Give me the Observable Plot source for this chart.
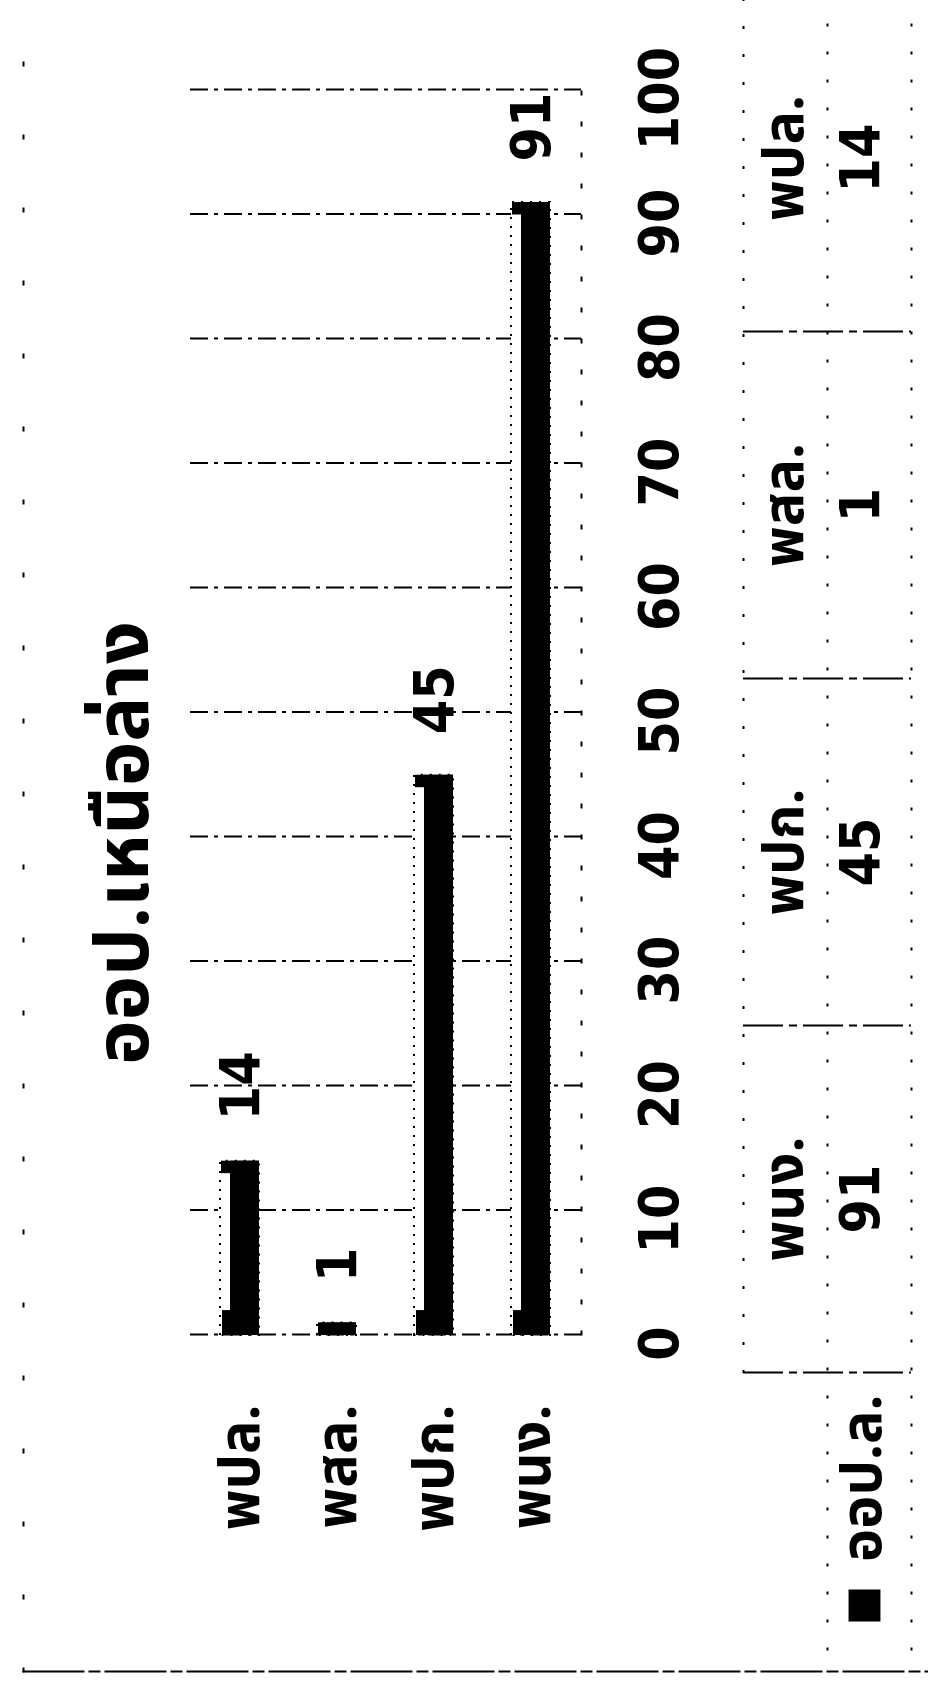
<!DOCTYPE html>
<html>
<head>
<meta charset="utf-8">
<script src="https://cdn.jsdelivr.net/npm/d3@7"></script>
<script src="https://cdn.jsdelivr.net/npm/@observablehq/plot@0.6"></script>
<style>
  html, body { margin: 0; padding: 0; background: #fff; }
  body { width: 928px; height: 1684px; overflow: hidden; position: relative; }
  #rot { position: absolute; left: 0; top: 0; width: 1684px; height: 928px;
         transform-origin: 0 0; transform: translate(0, 1684px) rotate(-90deg); }
  #rot > * { position: absolute; left: 0; top: 0; }
  #title { width: 1682px; text-align: center; top: 88px; font-size: 75px; font-weight: bold;
           line-height: 1; font-family: "Noto Sans Thai", "Noto Sans Thai Looped", Loma, Garuda, "Tlwg Typo", Kinnari, sans-serif; }
</style>
</head>
<body>
<div id="rot">
  <div id="title"></div>
</div>
<script>
// ---- data ----
const chartTitle = "ออป.เหนือล่าง";
const seriesName = "ออป.ล.";
const categories = ["พปล.", "พสล.", "พปก.", "พนง."];
const values = [14, 1, 45, 91];
const xTicks = [0, 10, 20, 30, 40, 50, 60, 70, 80, 90, 100];
const tableOrder = ["พนง.", "พปก.", "พสล.", "พปล."];

const thaiFont = '"Noto Sans Thai", "Noto Sans Thai Looped", Loma, Garuda, "Tlwg Typo", Kinnari, sans-serif';
const numFont = '"DejaVu Sans Condensed", "Liberation Sans", Arial, sans-serif';

const data = categories.map((c, i) => ({cat: c, value: values[i]}));
const tableCols = tableOrder.map((c, i) => ({cat: c, value: values[categories.indexOf(c)], i}));

document.getElementById("title").textContent = chartTitle;

// ---- chart ----
const chart = Plot.plot({
  width: 1684, height: 928,
  marginLeft: 349, marginRight: 90, marginTop: 190, marginBottom: 347,
  x: {domain: [0, 100], axis: null},
  y: {domain: categories, padding: 0, axis: null},
  style: {background: "transparent", color: "#000", overflow: "visible"},
  marks: [
    Plot.ruleX(xTicks, {stroke: "#000", strokeWidth: 2, strokeDasharray: "18,6,4,6"}),
    Plot.frame({anchor: "bottom", stroke: "#000", strokeWidth: 2, strokeDasharray: "3,28"}),
    Plot.barX(data, {x: "value", y: "cat", fill: "#fff", stroke: "#000", strokeWidth: 2,
                     strokeDasharray: "2,7", insetTop: 28, insetBottom: 30}),
    Plot.barX(data, {x: "value", y: "cat", fill: "#000", insetTop: 38, insetBottom: 30}),
    Plot.barX(data, {x1: 0, x2: d => Math.min(d.value, 2), y: "cat", fill: "#000", insetTop: 30, insetBottom: 30}),
    Plot.barX(data, {x1: d => Math.max(0, d.value - 1), x2: "value", y: "cat", fill: "#000", insetTop: 29, insetBottom: 30}),
    Plot.text(data, {x: "value", y: "cat", text: d => String(d.value), textAnchor: "start",
                     dx: 40, fontSize: 55, fontWeight: "bold", fontFamily: numFont}),
    Plot.axisX({ticks: xTicks, tickSize: 0, tickPadding: 57, fontSize: 55, fontWeight: "bold", dx: -9,
                fontFamily: numFont, tickFormat: d => String(d), label: null}),
    Plot.axisY({tickSize: 0, tickPadding: 70, fontSize: 56, fontWeight: "bold",
                fontFamily: thaiFont, label: null})
  ]
});

// ---- data table + chart frame ----
const table = Plot.plot({
  width: 1684, height: 928,
  marginLeft: 12, marginTop: 23, marginRight: 0, marginBottom: 0,
  x: {type: "linear", domain: [0, 4], range: [311, 1699], axis: null},
  y: {type: "linear", domain: [0, 2], range: [743, 911], axis: null},
  style: {background: "transparent", color: "#000", overflow: "visible"},
  marks: [
    Plot.frame({anchor: "left", stroke: "#000", strokeWidth: 2, strokeDasharray: "60,6,10,6"}),
    Plot.frame({anchor: "top", stroke: "#000", strokeWidth: 2, strokeDasharray: "3,70"}),
    Plot.ruleY([0], {x1: 0, x2: 4, stroke: "#000", strokeWidth: 2, strokeDasharray: "3,25"}),
    Plot.ruleY([1, 2], {x1: -0.8, x2: 4, stroke: "#000", strokeWidth: 2, strokeDasharray: "3,25"}),
    Plot.ruleX([0, 1, 2, 3], {y1: 0, y2: 2, stroke: "#000", strokeWidth: 2, strokeDasharray: "40,6,8,6"}),
    Plot.text(tableCols, {x: d => d.i + 0.5, y: 0.5, text: "cat", fontSize: 56, fontWeight: "bold",
                          fontFamily: thaiFont}),
    Plot.text(tableCols, {x: d => d.i + 0.5, y: 1.5, dy: -8, text: d => String(d.value), fontSize: 55,
                          fontWeight: "bold", fontFamily: numFont}),
    Plot.text([seriesName], {x: 0, y: 1.5, dy: -6, text: d => d, textAnchor: "end", dx: -22,
                             fontSize: 56, fontWeight: "bold", fontFamily: thaiFont}),
    Plot.dot([seriesName], {x: 0, y: 1.5, dy: -5, symbol: "square", r: 18, fill: "#000", dx: -233})
  ]
});

const rot = document.getElementById("rot");
rot.appendChild(table);
rot.appendChild(chart);
</script>
</body>
</html>
